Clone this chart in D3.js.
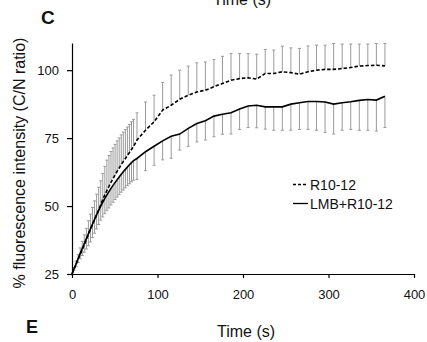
<!DOCTYPE html>
<html>
<head>
<meta charset="utf-8">
<script src="https://cdn.jsdelivr.net/npm/d3@7"></script>
<style>
  body { margin: 0; background: #fff; }
  svg text { font-family: "Liberation Sans", Arial, sans-serif; fill: #111; }
</style>
</head>
<body>
<div id="chart"></div>
<script>
// time points (s): dense sampling first, then every 10 s
const times = [0, 2.4, 4.8, 7.2, 9.6, 12, 14.4, 16.8, 19.2, 21.6, 24, 26.4, 28.8, 31.2, 33.6, 36, 38.4, 40.8, 43.2, 45.6,
  48, 50.4, 52.8, 55.2, 57.6, 60, 62.4, 64.8, 67.2, 69.6, 72,
  76, 86, 96, 106, 116, 126, 136, 146, 156, 166, 176, 186, 196, 206, 216, 226, 236, 246, 256, 266,
  276, 286, 296, 306, 316, 326, 336, 346, 356, 366];

// R10-12 (dashed), error bar drawn upward
const r10Mean = [25, 26.8, 28.6, 30.4, 32.2, 34.0, 35.8, 37.6, 39.7, 41.5, 43.3, 45.0, 46.8, 48.6, 50.5, 52.5, 54.1, 55.7, 57.2, 58.7,
  60.1, 61.5, 62.8, 64.0, 65.2, 66.4, 67.5, 68.6, 69.7, 70.8, 71.9,
  74.3, 77.9, 81.0, 85.3, 87.1, 89.3, 90.8, 92.0, 92.6, 93.9, 95.1, 96.3, 96.9, 97.2, 96.7, 98.8, 98.8, 99.4, 99.1, 98.5,
  99.4, 100.0, 100.3, 100.3, 100.6, 101.0, 101.5, 101.7, 101.8, 101.6];
const r10Err = [0, 0.6, 1.2, 1.8, 2.4, 3.0, 3.6, 4.2, 4.9, 5.5, 6.2, 6.9, 7.6, 8.3, 8.8, 9.5, 10.5, 11.2, 11.4, 11.4,
  11.3, 11.2, 11.2, 11.1, 11.0, 10.8, 10.7, 10.5, 10.3, 10.2, 10.0,
  10.0, 10.4, 9.8, 10.2, 11.1, 10.7, 10.7, 10.7, 10.4, 10.0, 10.0, 9.8, 9.2, 8.9, 9.2, 8.8, 8.6, 9.4, 9.1, 9.5,
  9.5, 9.2, 8.9, 9.5, 9.0, 8.6, 8.1, 7.9, 8.0, 8.2];

// LMB+R10-12 (solid), error bar drawn downward
const lmbMean = [25, 26.9, 28.8, 30.7, 32.6, 34.4, 36.2, 38.0, 39.8, 41.6, 43.4, 45.1, 46.8, 48.4, 50.0, 51.4, 52.8, 54.1, 55.3, 56.5,
  57.6, 58.7, 59.7, 60.7, 61.7, 62.6, 63.5, 64.4, 65.2, 66.0, 66.7,
  67.5, 70.0, 72.0, 74.0, 75.7, 76.5, 78.6, 80.4, 81.4, 83.1, 83.8, 84.3, 85.7, 86.8, 87.1, 86.5, 86.5, 86.5, 87.5, 88.0,
  88.5, 88.5, 88.3, 87.5, 88.0, 88.4, 88.9, 89.2, 89.0, 90.4];
const lmbErr = [0, 0.5, 1.0, 1.5, 2.0, 2.6, 3.2, 3.8, 4.4, 4.8, 5.0, 5.1, 5.2, 5.2, 5.2, 5.4, 5.6, 5.8, 6.0, 6.1,
  6.2, 6.3, 6.4, 6.5, 6.6, 6.7, 6.8, 6.9, 7.0, 7.1, 7.2,
  7.7, 7.0, 7.0, 7.0, 8.1, 5.9, 6.6, 6.8, 7.1, 7.6, 7.4, 7.8, 7.5, 7.9, 8.3, 8.2, 8.6, 8.6, 9.6, 9.8,
  10.3, 10.6, 11.2, 11.0, 10.1, 10.2, 11.0, 11.3, 11.4, 11.5];

const xTicks = [0, 100, 200, 300, 400];
const yTicks = [25, 50, 75, 100];
const seriesNames = ['R10-12', 'LMB+R10-12'];

const width = 427;
const height = 342;

const svg = d3.select('#chart').append('svg').attr('width', width).attr('height', height);

const x = d3.scaleLinear().domain([0, 400]).range([72, 414]);
const y = d3.scaleLinear().domain([25, 110]).range([274, 43]);

const r10 = times.map((t, i) => ({t: t, v: r10Mean[i], e: r10Err[i]}));
const lmb = times.map((t, i) => ({t: t, v: lmbMean[i], e: lmbErr[i]}));

// error bars
const barColor = '#9a9a9a';
function errorBars(data, dir) {
  const g = svg.append('g').attr('stroke', barColor).attr('stroke-width', 1);
  g.selectAll('line.bar').data(data.filter(d => d.e > 0)).join('line')
    .attr('x1', d => x(d.t)).attr('x2', d => x(d.t))
    .attr('y1', d => y(d.v)).attr('y2', d => y(d.v + dir * d.e));
  g.selectAll('line.cap').data(data.filter(d => d.e > 0)).join('line')
    .attr('x1', d => x(d.t) - 1.5).attr('x2', d => x(d.t) + 1.5)
    .attr('y1', d => y(d.v + dir * d.e)).attr('y2', d => y(d.v + dir * d.e));
}
errorBars(r10, 1);
errorBars(lmb, -1);

const line = d3.line().x(d => x(d.t)).y(d => y(d.v));
svg.append('path').datum(lmb).attr('d', line).attr('fill', 'none').attr('stroke', '#000').attr('stroke-width', 1.6);
svg.append('path').datum(r10).attr('d', line).attr('fill', 'none').attr('stroke', '#000').attr('stroke-width', 1.6).attr('stroke-dasharray', '3.5,2');

// axes
const yAxis = svg.append('g').attr('transform', 'translate(72,0)')
  .call(d3.axisLeft(y).tickValues(yTicks).tickSize(5).tickSizeOuter(0).tickPadding(8));
const xAxis = svg.append('g').attr('transform', 'translate(0,274)')
  .call(d3.axisBottom(x).tickValues(xTicks).tickSize(4).tickSizeOuter(0).tickPadding(12));
[yAxis, xAxis].forEach(g => {
  g.select('.domain').attr('stroke', '#000').attr('stroke-width', 1.2);
  g.selectAll('.tick line').attr('stroke', '#000').attr('stroke-width', 1.2);
  g.selectAll('.tick text').attr('font-size', 13).attr('fill', '#111').style('font-family', '"Liberation Sans", Arial, sans-serif');
});

// labels
svg.append('text').attr('x', 242).attr('y', 5).attr('text-anchor', 'middle').attr('font-size', 16).text('Time (s)');
svg.append('text').attr('x', 41).attr('y', 24).attr('font-size', 19).attr('font-weight', 'bold').text('C');
svg.append('text').attr('transform', 'translate(25,163) rotate(-90)').attr('text-anchor', 'middle').attr('font-size', 16)
  .text('% fluorescence intensity (C/N ratio)');
svg.append('text').attr('x', 246).attr('y', 337).attr('text-anchor', 'middle').attr('font-size', 16).text('Time (s)');
svg.append('text').attr('x', 26).attr('y', 333).attr('font-size', 18).attr('font-weight', 'bold').text('E');
svg.append('text').attr('x', 27).attr('y', 351).attr('font-size', 13).text('100');

// legend
const legend = svg.append('g').attr('transform', 'translate(293,0)');
const legendY = [184.5, 203.5];
legend.selectAll('line').data(seriesNames).join('line')
  .attr('x1', 0).attr('x2', 15)
  .attr('y1', (d, i) => legendY[i]).attr('y2', (d, i) => legendY[i])
  .attr('stroke', '#000').attr('stroke-width', 1.3)
  .attr('stroke-dasharray', (d, i) => i === 0 ? '3,2' : null);
legend.selectAll('text').data(seriesNames).join('text')
  .attr('x', 17).attr('y', (d, i) => legendY[i] + 5)
  .attr('font-size', 14).text(d => d);
</script>
</body>
</html>
